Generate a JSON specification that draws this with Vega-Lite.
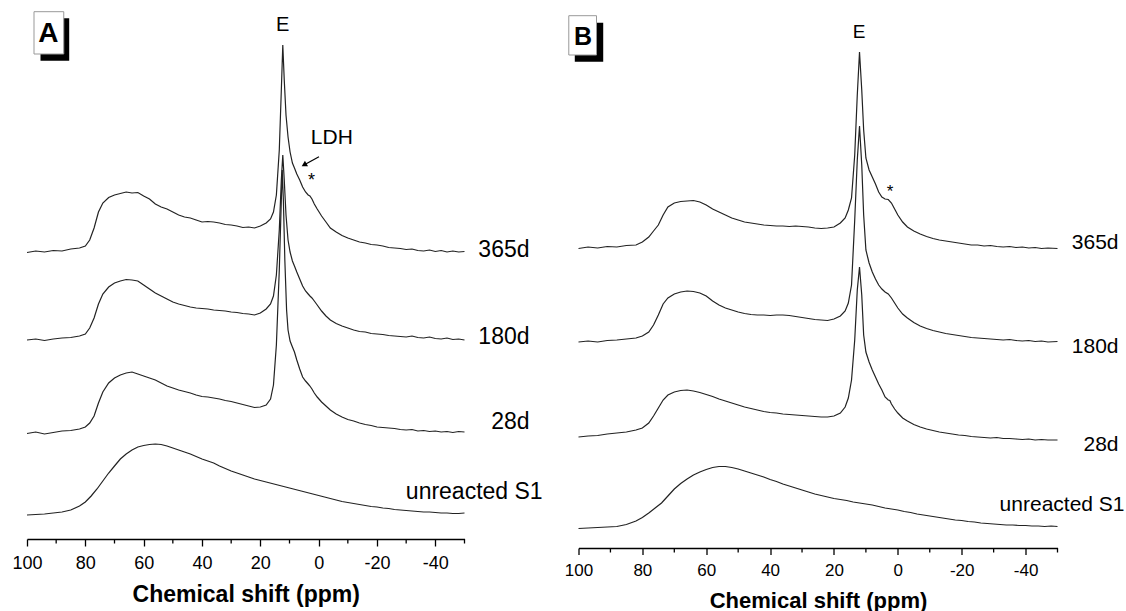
{
"$schema": "https://vega.github.io/schema/vega-lite/v6.json",
"background": "white",
"padding": {"left": 11, "top": 0, "right": 0, "bottom": 0},
"bounds": "flush",
"spacing": 113.5,
"config": {"view": {"stroke": null}, "font": "Liberation Sans",
  "locale": {"number": {"decimal": ".", "thousands": ",", "grouping": [3], "currency": ["$", ""], "minus": "-"}},
  "axis": {"domainColor": "#000", "domainWidth": 1.3, "tickColor": "#000", "tickWidth": 1.3, "labelColor": "#000", "titleColor": "#000", "grid": false, "labelFont": "Liberation Sans", "titleFont": "Liberation Sans", "titleFontWeight": "bold"}},
"datasets": {
"A": [
{"s":"365d","x":100,"y":286.5},{"s":"365d","x":97,"y":288},{"s":"365d","x":94,"y":287},{"s":"365d","x":91,"y":288.5},{"s":"365d","x":88,"y":288},{"s":"365d","x":85,"y":290},{"s":"365d","x":82,"y":291},{"s":"365d","x":80,"y":293},{"s":"365d","x":78.5,"y":299},{"s":"365d","x":77,"y":311},{"s":"365d","x":75.5,"y":327},{"s":"365d","x":74,"y":336},{"s":"365d","x":72,"y":341.5},{"s":"365d","x":70,"y":344},{"s":"365d","x":68,"y":345.5},{"s":"365d","x":66,"y":347},{"s":"365d","x":64,"y":346},{"s":"365d","x":62,"y":346.5},{"s":"365d","x":60,"y":343},{"s":"365d","x":58,"y":340},{"s":"365d","x":56,"y":335},{"s":"365d","x":54,"y":332},{"s":"365d","x":52,"y":330},{"s":"365d","x":50,"y":327},{"s":"365d","x":48,"y":324},{"s":"365d","x":46,"y":322},{"s":"365d","x":44,"y":321},{"s":"365d","x":42,"y":319},{"s":"365d","x":40,"y":317},{"s":"365d","x":38,"y":317.5},{"s":"365d","x":36,"y":317},{"s":"365d","x":34,"y":316},{"s":"365d","x":32,"y":314.5},{"s":"365d","x":30,"y":314},{"s":"365d","x":28,"y":313},{"s":"365d","x":26,"y":311.5},{"s":"365d","x":24,"y":312},{"s":"365d","x":22,"y":311},{"s":"365d","x":20,"y":313},{"s":"365d","x":18,"y":316},{"s":"365d","x":16.5,"y":320},{"s":"365d","x":15.5,"y":327},{"s":"365d","x":14.5,"y":344},{"s":"365d","x":13.5,"y":389},{"s":"365d","x":12.8,"y":449},{"s":"365d","x":12.3,"y":494},{"s":"365d","x":11.8,"y":459},{"s":"365d","x":11.2,"y":424},{"s":"365d","x":10.5,"y":402},{"s":"365d","x":9.8,"y":387},{"s":"365d","x":9,"y":376},{"s":"365d","x":8.3,"y":371},{"s":"365d","x":7.5,"y":365},{"s":"365d","x":6.5,"y":359},{"s":"365d","x":5.5,"y":352},{"s":"365d","x":4.5,"y":347},{"s":"365d","x":3.6,"y":344},{"s":"365d","x":3,"y":343},{"s":"365d","x":2.3,"y":340},{"s":"365d","x":1.5,"y":335},{"s":"365d","x":0.5,"y":330},{"s":"365d","x":-1,"y":323},{"s":"365d","x":-2.5,"y":317},{"s":"365d","x":-4,"y":311},{"s":"365d","x":-6,"y":307},{"s":"365d","x":-8,"y":303.5},{"s":"365d","x":-10,"y":301},{"s":"365d","x":-12,"y":299},{"s":"365d","x":-14,"y":297},{"s":"365d","x":-16,"y":296},{"s":"365d","x":-18,"y":294.5},{"s":"365d","x":-20,"y":294},{"s":"365d","x":-22,"y":293},{"s":"365d","x":-24,"y":291.5},{"s":"365d","x":-26,"y":291},{"s":"365d","x":-28,"y":290.5},{"s":"365d","x":-30,"y":289.5},{"s":"365d","x":-32,"y":290},{"s":"365d","x":-34,"y":288.5},{"s":"365d","x":-36,"y":288},{"s":"365d","x":-38,"y":289},{"s":"365d","x":-40,"y":287.5},{"s":"365d","x":-42,"y":288.5},{"s":"365d","x":-44,"y":287},{"s":"365d","x":-46,"y":288},{"s":"365d","x":-48,"y":287},{"s":"365d","x":-50,"y":287.5},
{"s":"180d","x":100,"y":199},{"s":"180d","x":97,"y":200},{"s":"180d","x":94,"y":198.5},{"s":"180d","x":91,"y":200},{"s":"180d","x":88,"y":201},{"s":"180d","x":85,"y":201.5},{"s":"180d","x":82,"y":203},{"s":"180d","x":80,"y":205},{"s":"180d","x":78.5,"y":211},{"s":"180d","x":77,"y":221},{"s":"180d","x":75.5,"y":235},{"s":"180d","x":74,"y":245},{"s":"180d","x":72,"y":252},{"s":"180d","x":70,"y":256},{"s":"180d","x":68,"y":258},{"s":"180d","x":66,"y":259.5},{"s":"180d","x":64,"y":259},{"s":"180d","x":62,"y":258},{"s":"180d","x":60,"y":254},{"s":"180d","x":58,"y":250},{"s":"180d","x":56,"y":246},{"s":"180d","x":54,"y":243},{"s":"180d","x":52,"y":240},{"s":"180d","x":50,"y":237},{"s":"180d","x":48,"y":235},{"s":"180d","x":46,"y":233.5},{"s":"180d","x":44,"y":232},{"s":"180d","x":42,"y":231},{"s":"180d","x":40,"y":230.5},{"s":"180d","x":38,"y":230},{"s":"180d","x":36,"y":229},{"s":"180d","x":34,"y":228.5},{"s":"180d","x":32,"y":228},{"s":"180d","x":30,"y":227},{"s":"180d","x":28,"y":226.5},{"s":"180d","x":26,"y":225.5},{"s":"180d","x":24,"y":225},{"s":"180d","x":22,"y":224},{"s":"180d","x":20,"y":226},{"s":"180d","x":18,"y":230},{"s":"180d","x":16.5,"y":235},{"s":"180d","x":15.5,"y":243},{"s":"180d","x":14.5,"y":264},{"s":"180d","x":13.5,"y":309},{"s":"180d","x":12.8,"y":359},{"s":"180d","x":12.3,"y":384},{"s":"180d","x":11.8,"y":359},{"s":"180d","x":11.2,"y":324},{"s":"180d","x":10.5,"y":299},{"s":"180d","x":9.8,"y":287},{"s":"180d","x":9,"y":278},{"s":"180d","x":8.3,"y":273},{"s":"180d","x":7.5,"y":267},{"s":"180d","x":6.5,"y":260},{"s":"180d","x":5.5,"y":253},{"s":"180d","x":4.5,"y":248},{"s":"180d","x":3.6,"y":245},{"s":"180d","x":3,"y":243},{"s":"180d","x":2.3,"y":241},{"s":"180d","x":1.5,"y":238},{"s":"180d","x":0.5,"y":234},{"s":"180d","x":-1,"y":228},{"s":"180d","x":-2.5,"y":223},{"s":"180d","x":-4,"y":219},{"s":"180d","x":-6,"y":215.5},{"s":"180d","x":-8,"y":213},{"s":"180d","x":-10,"y":211},{"s":"180d","x":-12,"y":209},{"s":"180d","x":-14,"y":207.5},{"s":"180d","x":-16,"y":207},{"s":"180d","x":-18,"y":205.5},{"s":"180d","x":-20,"y":205},{"s":"180d","x":-22,"y":204.5},{"s":"180d","x":-24,"y":203.5},{"s":"180d","x":-26,"y":203},{"s":"180d","x":-28,"y":202.5},{"s":"180d","x":-30,"y":202},{"s":"180d","x":-32,"y":203},{"s":"180d","x":-34,"y":201.5},{"s":"180d","x":-36,"y":201},{"s":"180d","x":-38,"y":202},{"s":"180d","x":-40,"y":200.5},{"s":"180d","x":-42,"y":200},{"s":"180d","x":-44,"y":201},{"s":"180d","x":-46,"y":199.5},{"s":"180d","x":-48,"y":200},{"s":"180d","x":-50,"y":199},
{"s":"28d","x":100,"y":105.5},{"s":"28d","x":97,"y":107},{"s":"28d","x":94,"y":105},{"s":"28d","x":91,"y":106.5},{"s":"28d","x":88,"y":108},{"s":"28d","x":85,"y":108.5},{"s":"28d","x":82,"y":110},{"s":"28d","x":80,"y":112},{"s":"28d","x":78.5,"y":116},{"s":"28d","x":77,"y":123},{"s":"28d","x":75.5,"y":136},{"s":"28d","x":74,"y":147},{"s":"28d","x":72,"y":156},{"s":"28d","x":70,"y":161},{"s":"28d","x":68,"y":164},{"s":"28d","x":66,"y":166},{"s":"28d","x":64,"y":167},{"s":"28d","x":62,"y":165},{"s":"28d","x":60,"y":163},{"s":"28d","x":58,"y":161},{"s":"28d","x":56,"y":159},{"s":"28d","x":54,"y":156},{"s":"28d","x":52,"y":153},{"s":"28d","x":50,"y":151},{"s":"28d","x":48,"y":149},{"s":"28d","x":46,"y":147.5},{"s":"28d","x":44,"y":146},{"s":"28d","x":42,"y":144},{"s":"28d","x":40,"y":142.5},{"s":"28d","x":38,"y":142},{"s":"28d","x":36,"y":141},{"s":"28d","x":34,"y":140},{"s":"28d","x":32,"y":138.5},{"s":"28d","x":30,"y":137.5},{"s":"28d","x":28,"y":136},{"s":"28d","x":26,"y":134.5},{"s":"28d","x":24,"y":133},{"s":"28d","x":22,"y":131.5},{"s":"28d","x":20,"y":132},{"s":"28d","x":18,"y":134},{"s":"28d","x":16.5,"y":140},{"s":"28d","x":15.5,"y":154},{"s":"28d","x":14.5,"y":194},{"s":"28d","x":13.5,"y":269},{"s":"28d","x":12.8,"y":339},{"s":"28d","x":12.5,"y":369},{"s":"28d","x":12.1,"y":339},{"s":"28d","x":11.6,"y":279},{"s":"28d","x":11,"y":229},{"s":"28d","x":10.5,"y":209},{"s":"28d","x":9.8,"y":198},{"s":"28d","x":9,"y":192},{"s":"28d","x":8.3,"y":187},{"s":"28d","x":7.5,"y":179},{"s":"28d","x":6.5,"y":170},{"s":"28d","x":5.5,"y":162},{"s":"28d","x":4.5,"y":158},{"s":"28d","x":3.6,"y":155},{"s":"28d","x":3,"y":153},{"s":"28d","x":2.3,"y":150},{"s":"28d","x":1.5,"y":146},{"s":"28d","x":0.5,"y":142},{"s":"28d","x":-1,"y":137},{"s":"28d","x":-2.5,"y":133},{"s":"28d","x":-4,"y":129},{"s":"28d","x":-6,"y":125},{"s":"28d","x":-8,"y":122},{"s":"28d","x":-10,"y":119.5},{"s":"28d","x":-12,"y":118},{"s":"28d","x":-14,"y":116},{"s":"28d","x":-16,"y":114.5},{"s":"28d","x":-18,"y":113.5},{"s":"28d","x":-20,"y":112},{"s":"28d","x":-22,"y":111.5},{"s":"28d","x":-24,"y":111},{"s":"28d","x":-26,"y":110.5},{"s":"28d","x":-28,"y":109.5},{"s":"28d","x":-30,"y":109},{"s":"28d","x":-32,"y":109.5},{"s":"28d","x":-34,"y":108},{"s":"28d","x":-36,"y":108.5},{"s":"28d","x":-38,"y":107.5},{"s":"28d","x":-40,"y":108},{"s":"28d","x":-42,"y":107},{"s":"28d","x":-44,"y":107.5},{"s":"28d","x":-46,"y":106.5},{"s":"28d","x":-48,"y":107.5},{"s":"28d","x":-50,"y":107},
{"s":"S1","x":100,"y":24},{"s":"S1","x":97,"y":24.5},{"s":"S1","x":94,"y":25},{"s":"S1","x":91,"y":26},{"s":"S1","x":88,"y":27},{"s":"S1","x":85,"y":29},{"s":"S1","x":82,"y":33},{"s":"S1","x":80,"y":37},{"s":"S1","x":78,"y":43},{"s":"S1","x":76,"y":50},{"s":"S1","x":74,"y":58},{"s":"S1","x":72,"y":66},{"s":"S1","x":70,"y":73},{"s":"S1","x":68,"y":80},{"s":"S1","x":66,"y":85},{"s":"S1","x":64,"y":89},{"s":"S1","x":62,"y":92},{"s":"S1","x":60,"y":93.5},{"s":"S1","x":58,"y":94.5},{"s":"S1","x":56,"y":95},{"s":"S1","x":54,"y":94.5},{"s":"S1","x":52,"y":93},{"s":"S1","x":50,"y":91},{"s":"S1","x":48,"y":89},{"s":"S1","x":46,"y":87},{"s":"S1","x":44,"y":85},{"s":"S1","x":42,"y":82.5},{"s":"S1","x":40,"y":80},{"s":"S1","x":38,"y":78},{"s":"S1","x":36,"y":76},{"s":"S1","x":34,"y":73},{"s":"S1","x":32,"y":70.5},{"s":"S1","x":30,"y":68},{"s":"S1","x":28,"y":66},{"s":"S1","x":26,"y":64},{"s":"S1","x":24,"y":62},{"s":"S1","x":22,"y":60},{"s":"S1","x":20,"y":58.5},{"s":"S1","x":18,"y":57},{"s":"S1","x":16,"y":55.5},{"s":"S1","x":14,"y":54},{"s":"S1","x":12,"y":52.5},{"s":"S1","x":10,"y":51},{"s":"S1","x":8,"y":49.5},{"s":"S1","x":6,"y":48},{"s":"S1","x":4,"y":46.5},{"s":"S1","x":2,"y":45},{"s":"S1","x":0,"y":43.5},{"s":"S1","x":-2,"y":42},{"s":"S1","x":-4,"y":40.5},{"s":"S1","x":-6,"y":39},{"s":"S1","x":-8,"y":37.5},{"s":"S1","x":-10,"y":36.5},{"s":"S1","x":-12,"y":35.5},{"s":"S1","x":-14,"y":34.5},{"s":"S1","x":-16,"y":33.5},{"s":"S1","x":-18,"y":32.5},{"s":"S1","x":-20,"y":32},{"s":"S1","x":-22,"y":31},{"s":"S1","x":-24,"y":30.5},{"s":"S1","x":-26,"y":29.5},{"s":"S1","x":-28,"y":29},{"s":"S1","x":-30,"y":28.5},{"s":"S1","x":-32,"y":28},{"s":"S1","x":-34,"y":27.5},{"s":"S1","x":-36,"y":27},{"s":"S1","x":-38,"y":27},{"s":"S1","x":-40,"y":26.5},{"s":"S1","x":-42,"y":26},{"s":"S1","x":-44,"y":26},{"s":"S1","x":-46,"y":25.5},{"s":"S1","x":-48,"y":25.5},{"s":"S1","x":-50,"y":26}
],
"B": [
{"s":"365d","x":100,"y":299.5},{"s":"365d","x":97,"y":301},{"s":"365d","x":94,"y":300},{"s":"365d","x":91,"y":301.5},{"s":"365d","x":88,"y":301},{"s":"365d","x":85,"y":302.5},{"s":"365d","x":82,"y":303},{"s":"365d","x":80,"y":306},{"s":"365d","x":78,"y":311},{"s":"365d","x":76.5,"y":317},{"s":"365d","x":75,"y":323},{"s":"365d","x":73.5,"y":333},{"s":"365d","x":72,"y":341},{"s":"365d","x":70,"y":345},{"s":"365d","x":68,"y":346.5},{"s":"365d","x":66,"y":347},{"s":"365d","x":64,"y":347.5},{"s":"365d","x":62,"y":346},{"s":"365d","x":60,"y":343},{"s":"365d","x":58,"y":339},{"s":"365d","x":56,"y":336},{"s":"365d","x":54,"y":333},{"s":"365d","x":52,"y":330},{"s":"365d","x":50,"y":328},{"s":"365d","x":48,"y":326},{"s":"365d","x":46,"y":325},{"s":"365d","x":44,"y":324},{"s":"365d","x":42,"y":323},{"s":"365d","x":40,"y":322.5},{"s":"365d","x":38,"y":322},{"s":"365d","x":36,"y":322},{"s":"365d","x":34,"y":321.5},{"s":"365d","x":32,"y":322},{"s":"365d","x":30,"y":321.5},{"s":"365d","x":28,"y":321},{"s":"365d","x":26,"y":320},{"s":"365d","x":24,"y":319.5},{"s":"365d","x":22,"y":320},{"s":"365d","x":20,"y":321},{"s":"365d","x":18,"y":325},{"s":"365d","x":16.5,"y":330},{"s":"365d","x":15.5,"y":338},{"s":"365d","x":14.5,"y":350},{"s":"365d","x":13.5,"y":393},{"s":"365d","x":12.7,"y":453},{"s":"365d","x":12,"y":496},{"s":"365d","x":11.3,"y":458},{"s":"365d","x":10.7,"y":418},{"s":"365d","x":10,"y":390},{"s":"365d","x":9,"y":378},{"s":"365d","x":8,"y":371},{"s":"365d","x":7,"y":364},{"s":"365d","x":6,"y":356},{"s":"365d","x":5,"y":351},{"s":"365d","x":4,"y":349},{"s":"365d","x":3,"y":348.5},{"s":"365d","x":2,"y":345},{"s":"365d","x":1,"y":339},{"s":"365d","x":0,"y":333},{"s":"365d","x":-1.5,"y":326},{"s":"365d","x":-3,"y":321},{"s":"365d","x":-5,"y":317},{"s":"365d","x":-7,"y":314},{"s":"365d","x":-9,"y":311.5},{"s":"365d","x":-11,"y":309.5},{"s":"365d","x":-13,"y":308},{"s":"365d","x":-15,"y":307},{"s":"365d","x":-17,"y":306},{"s":"365d","x":-19,"y":305},{"s":"365d","x":-21,"y":304},{"s":"365d","x":-23,"y":303},{"s":"365d","x":-25,"y":303},{"s":"365d","x":-27,"y":302},{"s":"365d","x":-29,"y":302.5},{"s":"365d","x":-31,"y":301.5},{"s":"365d","x":-33,"y":301},{"s":"365d","x":-35,"y":301.5},{"s":"365d","x":-37,"y":300.5},{"s":"365d","x":-39,"y":301},{"s":"365d","x":-41,"y":300},{"s":"365d","x":-43,"y":300.5},{"s":"365d","x":-45,"y":299.5},{"s":"365d","x":-47,"y":300},{"s":"365d","x":-50,"y":299.5},
{"s":"180d","x":100,"y":206},{"s":"180d","x":97,"y":207},{"s":"180d","x":94,"y":206},{"s":"180d","x":91,"y":207.5},{"s":"180d","x":88,"y":208},{"s":"180d","x":85,"y":209},{"s":"180d","x":82,"y":210},{"s":"180d","x":80,"y":212},{"s":"180d","x":78,"y":216},{"s":"180d","x":76.5,"y":223},{"s":"180d","x":75,"y":233},{"s":"180d","x":73.5,"y":244},{"s":"180d","x":72,"y":250},{"s":"180d","x":70,"y":254},{"s":"180d","x":68,"y":256},{"s":"180d","x":66,"y":257},{"s":"180d","x":64,"y":256.5},{"s":"180d","x":62,"y":255},{"s":"180d","x":60,"y":252},{"s":"180d","x":58,"y":247},{"s":"180d","x":56,"y":243},{"s":"180d","x":54,"y":240},{"s":"180d","x":52,"y":238},{"s":"180d","x":50,"y":236},{"s":"180d","x":48,"y":234.5},{"s":"180d","x":46,"y":233.5},{"s":"180d","x":44,"y":233},{"s":"180d","x":42,"y":233},{"s":"180d","x":40,"y":232.5},{"s":"180d","x":38,"y":233},{"s":"180d","x":36,"y":233},{"s":"180d","x":34,"y":232.5},{"s":"180d","x":32,"y":231.5},{"s":"180d","x":30,"y":230.5},{"s":"180d","x":28,"y":229.5},{"s":"180d","x":26,"y":228.5},{"s":"180d","x":24,"y":228},{"s":"180d","x":22,"y":227.5},{"s":"180d","x":20,"y":229},{"s":"180d","x":18,"y":232},{"s":"180d","x":16.5,"y":237},{"s":"180d","x":15.5,"y":245},{"s":"180d","x":14.5,"y":263},{"s":"180d","x":13.5,"y":328},{"s":"180d","x":12.7,"y":388},{"s":"180d","x":12,"y":422},{"s":"180d","x":11.3,"y":383},{"s":"180d","x":10.7,"y":333},{"s":"180d","x":10,"y":298},{"s":"180d","x":9,"y":285},{"s":"180d","x":8,"y":276},{"s":"180d","x":7,"y":269},{"s":"180d","x":6,"y":263},{"s":"180d","x":5,"y":259},{"s":"180d","x":4,"y":256},{"s":"180d","x":3,"y":254},{"s":"180d","x":2,"y":250},{"s":"180d","x":1,"y":245},{"s":"180d","x":0,"y":240},{"s":"180d","x":-1.5,"y":234},{"s":"180d","x":-3,"y":230},{"s":"180d","x":-5,"y":225.5},{"s":"180d","x":-7,"y":222},{"s":"180d","x":-9,"y":219.5},{"s":"180d","x":-11,"y":217.5},{"s":"180d","x":-13,"y":216},{"s":"180d","x":-15,"y":214.5},{"s":"180d","x":-17,"y":213.5},{"s":"180d","x":-19,"y":212.5},{"s":"180d","x":-21,"y":211.5},{"s":"180d","x":-23,"y":210.5},{"s":"180d","x":-25,"y":210},{"s":"180d","x":-27,"y":209.5},{"s":"180d","x":-29,"y":209},{"s":"180d","x":-31,"y":208.5},{"s":"180d","x":-33,"y":208},{"s":"180d","x":-35,"y":208.5},{"s":"180d","x":-37,"y":207.5},{"s":"180d","x":-39,"y":207},{"s":"180d","x":-41,"y":207.5},{"s":"180d","x":-43,"y":206.5},{"s":"180d","x":-45,"y":207},{"s":"180d","x":-47,"y":206},{"s":"180d","x":-50,"y":206.5},
{"s":"28d","x":100,"y":111},{"s":"28d","x":97,"y":112},{"s":"28d","x":94,"y":112.5},{"s":"28d","x":91,"y":114},{"s":"28d","x":88,"y":115},{"s":"28d","x":85,"y":116},{"s":"28d","x":82,"y":118},{"s":"28d","x":80,"y":120},{"s":"28d","x":78,"y":125},{"s":"28d","x":76.5,"y":132},{"s":"28d","x":75,"y":140},{"s":"28d","x":73.5,"y":148},{"s":"28d","x":72,"y":153},{"s":"28d","x":70,"y":156},{"s":"28d","x":68,"y":157.5},{"s":"28d","x":66,"y":158},{"s":"28d","x":64,"y":157},{"s":"28d","x":62,"y":155.5},{"s":"28d","x":60,"y":153.5},{"s":"28d","x":58,"y":151.5},{"s":"28d","x":56,"y":149},{"s":"28d","x":54,"y":147},{"s":"28d","x":52,"y":145},{"s":"28d","x":50,"y":143},{"s":"28d","x":48,"y":141},{"s":"28d","x":46,"y":139.5},{"s":"28d","x":44,"y":138},{"s":"28d","x":42,"y":136.5},{"s":"28d","x":40,"y":135.5},{"s":"28d","x":38,"y":135},{"s":"28d","x":36,"y":134},{"s":"28d","x":34,"y":133.5},{"s":"28d","x":32,"y":133},{"s":"28d","x":30,"y":132.5},{"s":"28d","x":28,"y":132},{"s":"28d","x":26,"y":131.5},{"s":"28d","x":24,"y":131},{"s":"28d","x":22,"y":131},{"s":"28d","x":20,"y":132},{"s":"28d","x":18,"y":135},{"s":"28d","x":16.5,"y":141},{"s":"28d","x":15.5,"y":150},{"s":"28d","x":14.5,"y":168},{"s":"28d","x":13.5,"y":208},{"s":"28d","x":12.7,"y":258},{"s":"28d","x":12,"y":281},{"s":"28d","x":11.3,"y":253},{"s":"28d","x":10.7,"y":213},{"s":"28d","x":10,"y":196},{"s":"28d","x":9,"y":186},{"s":"28d","x":8,"y":178},{"s":"28d","x":7,"y":171},{"s":"28d","x":6,"y":164},{"s":"28d","x":5,"y":158},{"s":"28d","x":4,"y":151},{"s":"28d","x":3,"y":148},{"s":"28d","x":2.5,"y":147.5},{"s":"28d","x":2,"y":144},{"s":"28d","x":1,"y":139},{"s":"28d","x":0,"y":135},{"s":"28d","x":-1.5,"y":130},{"s":"28d","x":-3,"y":127},{"s":"28d","x":-5,"y":123.5},{"s":"28d","x":-7,"y":121},{"s":"28d","x":-9,"y":119},{"s":"28d","x":-11,"y":117.5},{"s":"28d","x":-13,"y":116},{"s":"28d","x":-15,"y":115},{"s":"28d","x":-17,"y":114},{"s":"28d","x":-19,"y":113},{"s":"28d","x":-21,"y":112.5},{"s":"28d","x":-23,"y":111.5},{"s":"28d","x":-25,"y":111},{"s":"28d","x":-27,"y":110.5},{"s":"28d","x":-29,"y":110},{"s":"28d","x":-31,"y":110.5},{"s":"28d","x":-33,"y":109.5},{"s":"28d","x":-35,"y":109.5},{"s":"28d","x":-37,"y":109},{"s":"28d","x":-39,"y":108.5},{"s":"28d","x":-41,"y":109},{"s":"28d","x":-43,"y":108},{"s":"28d","x":-45,"y":108.5},{"s":"28d","x":-47,"y":108},{"s":"28d","x":-50,"y":108},
{"s":"S1","x":100,"y":19.5},{"s":"S1","x":97,"y":20},{"s":"S1","x":94,"y":20.5},{"s":"S1","x":91,"y":21},{"s":"S1","x":88,"y":21.5},{"s":"S1","x":85,"y":23.5},{"s":"S1","x":82,"y":27},{"s":"S1","x":80,"y":30.5},{"s":"S1","x":78,"y":35},{"s":"S1","x":76,"y":40},{"s":"S1","x":74,"y":45},{"s":"S1","x":72,"y":52},{"s":"S1","x":70,"y":59},{"s":"S1","x":68,"y":64.5},{"s":"S1","x":66,"y":69},{"s":"S1","x":64,"y":73},{"s":"S1","x":62,"y":76},{"s":"S1","x":60,"y":78.5},{"s":"S1","x":58,"y":80.5},{"s":"S1","x":56,"y":81.5},{"s":"S1","x":54,"y":81.5},{"s":"S1","x":52,"y":80.5},{"s":"S1","x":50,"y":79},{"s":"S1","x":48,"y":77},{"s":"S1","x":46,"y":75},{"s":"S1","x":44,"y":73},{"s":"S1","x":42,"y":71},{"s":"S1","x":40,"y":68.5},{"s":"S1","x":38,"y":66.5},{"s":"S1","x":36,"y":64},{"s":"S1","x":34,"y":62},{"s":"S1","x":32,"y":60},{"s":"S1","x":30,"y":58},{"s":"S1","x":28,"y":56},{"s":"S1","x":26,"y":54},{"s":"S1","x":24,"y":52.5},{"s":"S1","x":22,"y":51},{"s":"S1","x":20,"y":49.5},{"s":"S1","x":18,"y":48.5},{"s":"S1","x":16,"y":47.5},{"s":"S1","x":14,"y":46},{"s":"S1","x":12,"y":45},{"s":"S1","x":10,"y":44},{"s":"S1","x":8,"y":43},{"s":"S1","x":6,"y":41.5},{"s":"S1","x":4,"y":40},{"s":"S1","x":2,"y":39},{"s":"S1","x":0,"y":38},{"s":"S1","x":-2,"y":36.5},{"s":"S1","x":-4,"y":35.5},{"s":"S1","x":-6,"y":34},{"s":"S1","x":-8,"y":33},{"s":"S1","x":-10,"y":32},{"s":"S1","x":-12,"y":31},{"s":"S1","x":-14,"y":30},{"s":"S1","x":-16,"y":29},{"s":"S1","x":-18,"y":28},{"s":"S1","x":-20,"y":27.5},{"s":"S1","x":-22,"y":26.5},{"s":"S1","x":-24,"y":26},{"s":"S1","x":-26,"y":25},{"s":"S1","x":-28,"y":24.5},{"s":"S1","x":-30,"y":24},{"s":"S1","x":-32,"y":23.5},{"s":"S1","x":-34,"y":23},{"s":"S1","x":-36,"y":23},{"s":"S1","x":-38,"y":22.5},{"s":"S1","x":-40,"y":22.5},{"s":"S1","x":-42,"y":22},{"s":"S1","x":-44,"y":22},{"s":"S1","x":-46,"y":21.5},{"s":"S1","x":-48,"y":22},{"s":"S1","x":-50,"y":21.5}
],
"LA": [{"t":"365d","x":-72.3,"y":289},{"t":"180d","x":-72.3,"y":202.3},{"t":"28d","x":-72.3,"y":117.3},{"t":"unreacted S1","x":-76.8,"y":47.3}],
"LB": [{"t":"365d","x":-69.1,"y":305},{"t":"180d","x":-69.1,"y":201.3},{"t":"28d","x":-69.1,"y":103},{"t":"unreacted S1","x":-71,"y":43}],
"MT": [{"v":90},{"v":70},{"v":50},{"v":30},{"v":10},{"v":-10},{"v":-30},{"v":-50}]
},
"hconcat": [
{
"width": 437.5, "height": 539,
"layer": [
 {"data": {"name": "A"}, "mark": {"type": "line", "color": "#222", "strokeWidth": 1.2},
  "encoding": {
   "x": {"field": "x", "type": "quantitative", "scale": {"domain": [-50, 100], "reverse": true, "nice": false, "zero": false},
     "axis": {"values": [100,80,60,40,20,0,-20,-40], "format": "d", "labelFlush": false, "tickSize": 7, "labelFontSize": 18, "labelPadding": 8, "title": "Chemical shift (ppm)", "titleFontSize": 23, "titlePadding": 11}},
   "y": {"field": "y", "type": "quantitative", "scale": {"domain": [0, 539], "nice": false, "zero": false}, "axis": null},
   "detail": {"field": "s", "type": "nominal"}}},
 {"data": {"name": "MT"}, "mark": {"type": "rule", "color": "#000", "strokeWidth": 1.3},
  "encoding": {"x": {"field": "v", "type": "quantitative"}, "y": {"datum": 0, "type": "quantitative"}, "y2": {"datum": -4.5}}},
 {"data": {"name": "LA"}, "mark": {"type": "text", "align": "right", "baseline": "middle", "fontSize": 23, "color": "#000"},
  "encoding": {"x": {"field": "x", "type": "quantitative"}, "y": {"field": "y", "type": "quantitative"}, "text": {"field": "t"}}},
 {"data": {"values": [{}]}, "mark": {"type": "text", "text": "E", "align": "center", "baseline": "middle", "fontSize": 20, "color": "#000"},
  "encoding": {"x": {"datum": 12.3, "type": "quantitative"}, "y": {"datum": 514, "type": "quantitative"}}},
 {"data": {"values": [{}]}, "mark": {"type": "text", "text": "LDH", "align": "center", "baseline": "middle", "fontSize": 21, "color": "#000"},
  "encoding": {"x": {"datum": -4.5, "type": "quantitative"}, "y": {"datum": 400.7, "type": "quantitative"}}},
 {"data": {"values": [{}]}, "mark": {"type": "text", "text": "*", "align": "center", "baseline": "middle", "fontSize": 18, "color": "#000"},
  "encoding": {"x": {"datum": 2.5, "type": "quantitative"}, "y": {"datum": 358, "type": "quantitative"}}},
 {"data": {"values": [{}]}, "mark": {"type": "rule", "color": "#000", "strokeWidth": 1.2},
  "encoding": {"x": {"datum": -0.1, "type": "quantitative"}, "x2": {"datum": 5.2}, "y": {"datum": 382.3, "type": "quantitative"}, "y2": {"datum": 373.8}}},
 {"data": {"values": [{}]}, "mark": {"type": "point", "shape": "triangle-up", "filled": true, "size": 40, "angle": 241, "color": "#000", "opacity": 1},
  "encoding": {"x": {"datum": 5.0, "type": "quantitative"}, "y": {"datum": 374.2, "type": "quantitative"}}},
 {"data": {"values": [{}]}, "mark": {"type": "rect", "color": "#000"},
  "encoding": {"x": {"datum": 95.37, "type": "quantitative"}, "x2": {"datum": 85.53}, "y": {"datum": 520.7, "type": "quantitative"}, "y2": {"datum": 478.3}}},
 {"data": {"values": [{}]}, "mark": {"type": "rect", "fill": "#fff", "stroke": "#999", "strokeWidth": 1},
  "encoding": {"x": {"datum": 97.6, "type": "quantitative"}, "x2": {"datum": 87.4}, "y": {"datum": 527.3, "type": "quantitative"}, "y2": {"datum": 485}}},
 {"data": {"values": [{}]}, "mark": {"type": "text", "text": "A", "align": "center", "baseline": "middle", "fontSize": 28, "fontWeight": "bold", "color": "#000"},
  "encoding": {"x": {"datum": 92.66, "type": "quantitative"}, "y": {"datum": 505, "type": "quantitative"}}}
]
},
{
"width": 479, "height": 548,
"layer": [
 {"data": {"name": "B"}, "mark": {"type": "line", "color": "#222", "strokeWidth": 1.2},
  "encoding": {
   "x": {"field": "x", "type": "quantitative", "scale": {"domain": [-50, 100], "reverse": true, "nice": false, "zero": false},
     "axis": {"values": [100,80,60,40,20,0,-20,-40], "format": "d", "labelFlush": false, "tickSize": 6.5, "labelFontSize": 17, "labelPadding": 8, "title": "Chemical shift (ppm)", "titleFontSize": 22, "titlePadding": 12}},
   "y": {"field": "y", "type": "quantitative", "scale": {"domain": [0, 548], "nice": false, "zero": false}, "axis": null},
   "detail": {"field": "s", "type": "nominal"}}},
 {"data": {"name": "MT"}, "mark": {"type": "rule", "color": "#000", "strokeWidth": 1.3},
  "encoding": {"x": {"field": "v", "type": "quantitative"}, "y": {"datum": 0, "type": "quantitative"}, "y2": {"datum": -4.5}}},
 {"data": {"name": "LB"}, "mark": {"type": "text", "align": "right", "baseline": "middle", "fontSize": 21, "color": "#000"},
  "encoding": {"x": {"field": "x", "type": "quantitative"}, "y": {"field": "y", "type": "quantitative"}, "text": {"field": "t"}}},
 {"data": {"values": [{}]}, "mark": {"type": "text", "text": "E", "align": "center", "baseline": "middle", "fontSize": 19, "color": "#000"},
  "encoding": {"x": {"datum": 12.15, "type": "quantitative"}, "y": {"datum": 516.3, "type": "quantitative"}}},
 {"data": {"values": [{}]}, "mark": {"type": "text", "text": "*", "align": "center", "baseline": "middle", "fontSize": 17, "color": "#000"},
  "encoding": {"x": {"datum": 2.47, "type": "quantitative"}, "y": {"datum": 356, "type": "quantitative"}}},
 {"data": {"values": [{}]}, "mark": {"type": "rect", "color": "#000"},
  "encoding": {"x": {"datum": 101.16, "type": "quantitative"}, "x2": {"datum": 92.26}, "y": {"datum": 525.3, "type": "quantitative"}, "y2": {"datum": 486.3}}},
 {"data": {"values": [{}]}, "mark": {"type": "rect", "fill": "#fff", "stroke": "#999", "strokeWidth": 1},
  "encoding": {"x": {"datum": 103.04, "type": "quantitative"}, "x2": {"datum": 94.36}, "y": {"datum": 532.3, "type": "quantitative"}, "y2": {"datum": 493}}},
 {"data": {"values": [{}]}, "mark": {"type": "text", "text": "B", "align": "center", "baseline": "middle", "fontSize": 25, "fontWeight": "bold", "color": "#000"},
  "encoding": {"x": {"datum": 98.6, "type": "quantitative"}, "y": {"datum": 511.5, "type": "quantitative"}}}
]
}
]
}
